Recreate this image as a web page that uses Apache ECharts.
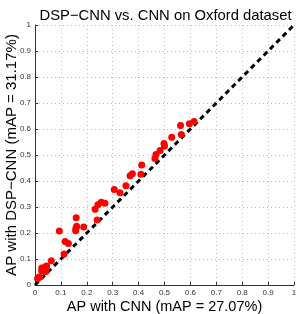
<!DOCTYPE html>
<html>
<head>
<meta charset="utf-8">
<script src="https://cdn.jsdelivr.net/npm/echarts@6/dist/echarts.min.js"></script>
<style>html,body{margin:0;padding:0;background:#fff}#c{width:300px;height:314px}</style>
</head>
<body>
<div id="c"></div>
<script>
var titleText = 'DSP\u2212CNN vs. CNN on Oxford dataset';
var xName = 'AP with CNN (mAP = 27.07%)';
var yName = 'AP with DSP\u2212CNN (mAP = 31.17%)';
var tickValues = [0, 0.1, 0.2, 0.3, 0.4, 0.5, 0.6, 0.7, 0.8, 0.9, 1];
var apCNN = [0.010, 0.018, 0.013, 0.026, 0.026, 0.034, 0.040, 0.042, 0.045, 0.063,
             0.094, 0.112, 0.116, 0.129, 0.159, 0.158, 0.157, 0.161, 0.188, 0.232,
             0.243, 0.256, 0.270, 0.240, 0.306, 0.328, 0.351, 0.367, 0.376, 0.409,
             0.412, 0.463, 0.467, 0.483, 0.498, 0.500, 0.528, 0.562, 0.565, 0.596, 0.614];
var apDSP = [0.025, 0.032, 0.028, 0.065, 0.055, 0.060, 0.070, 0.052, 0.073, 0.093,
             0.208, 0.119, 0.167, 0.160, 0.259, 0.218, 0.209, 0.226, 0.223, 0.291,
             0.309, 0.318, 0.314, 0.250, 0.367, 0.355, 0.382, 0.420, 0.428, 0.426,
             0.462, 0.487, 0.502, 0.517, 0.544, 0.535, 0.568, 0.613, 0.579, 0.620, 0.629];
var diagonal = [[0, 0], [1, 1]];

var points = apCNN.map(function (x, i) { return [x, apDSP[i]]; });
var font = 'Liberation Sans, Arial, sans-serif';
function axisCommon(name, gap, fs) {
  return {
    type: 'value', min: 0, max: 1, interval: 0.1,
    name: name, nameLocation: 'middle', nameGap: gap, nameMoveOverlap: false,
    nameTextStyle: { fontFamily: font, fontSize: fs, color: '#000' },
    axisLine: { show: true, onZero: false, lineStyle: { color: '#333', width: 1 } },
    axisTick: { show: true, inside: true, length: 3, lineStyle: { color: '#333' } },
    axisLabel: { fontFamily: font, fontSize: 8, color: '#333', margin: 4,
      formatter: function (v) { return tickValues.indexOf(Math.round(v * 10) / 10) >= 0 ? String(Math.round(v * 10) / 10) : ''; } },
    splitLine: { show: true, lineStyle: { color: '#bbb', type: [1, 3], width: 1 } }
  };
}
var chart = echarts.init(document.getElementById('c'), null, { renderer: 'canvas' });
chart.setOption({
  animation: false,
  backgroundColor: '#fff',
  title: { text: titleText, left: 160.5, top: 3, textAlign: 'center',
    textStyle: { fontFamily: font, fontSize: 14.8, fontWeight: 'normal', color: '#000' } },
  grid: { left: 35, right: 6, top: 25, bottom: 29, containLabel: false, outerBoundsMode: 'none' },
  xAxis: axisCommon(xName, 14, 14.5),
  yAxis: axisCommon(yName, 16, 15),
  series: [
    { type: 'line', data: diagonal, symbol: 'none', silent: true,
      lineStyle: { color: '#000', width: 3, type: [5, 4] }, z: 3 },
    { type: 'scatter', data: points, symbol: 'circle', symbolSize: 7,
      itemStyle: { color: '#ff0000', opacity: 1 }, z: 4 }
  ]
});
</script>
</body>
</html>
